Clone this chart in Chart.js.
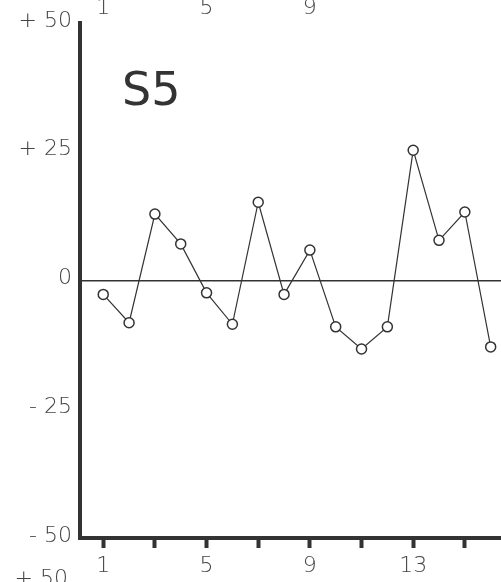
<!DOCTYPE html>
<html>
<head>
<meta charset="utf-8">
<script src="https://cdn.jsdelivr.net/npm/chart.js@4/dist/chart.umd.min.js"></script>
<style>
  body { margin: 0; background: #fff; }
  canvas { display: block; }
</style>
</head>
<body>
<canvas id="chartS5" width="501" height="582"></canvas>
<script>
// data
const trials = [1, 2, 3, 4, 5, 6, 7, 8, 9, 10, 11, 12, 13, 14, 15, 16];
const scores = [-2.7, -8.2, 12.9, 7.1, -2.4, -8.5, 15.2, -2.7, 5.9, -9.0, -13.3, -9.0, 25.3, 7.8, 13.3, -12.9];
const xTicks = [1, 3, 5, 7, 9, 11, 13, 15];
const xLabels = [1, 5, 9, 13];
const yTicks = [-50, -25, 0, 25, 50];
const yLabels = ["- 50", "- 25", "0", "+ 25", "+ 50"];
const panelTitle = "S5";
// bits of the neighbouring panels that are cut off at the edges
const topLabels = [1, 5, 9];
const bottomLabel = "+ 50";

const ink = "#333";
const textInk = "#444";
const fontFamily = "'DejaVu Sans', sans-serif";

const extraText = {
  id: "extraText",
  afterDraw(chart) {
    const ctx = chart.ctx;
    const x = chart.scales.x;
    ctx.save();
    ctx.fillStyle = ink;
    ctx.font = "400 46px " + fontFamily;
    ctx.textAlign = "left";
    ctx.textBaseline = "alphabetic";
    ctx.fillText(panelTitle, 122, 105);

    ctx.fillStyle = textInk;
    ctx.font = "200 22px " + fontFamily;
    ctx.textAlign = "center";
    topLabels.forEach(v => ctx.fillText(String(v), x.getPixelForValue(v), 14));
    ctx.textAlign = "right";
    ctx.fillText(bottomLabel, 68, 585);
    ctx.restore();
  }
};

const ctx = document.getElementById("chartS5");
new Chart(ctx, {
  type: "line",
  data: {
    datasets: [{
      data: trials.map((t, i) => ({ x: t, y: scores[i] })),
      borderColor: ink,
      borderWidth: 1.2,
      pointRadius: 5,
      pointBorderWidth: 1.5,
      pointBackgroundColor: "#fff",
      pointBorderColor: ink,
      tension: 0
    }]
  },
  options: {
    responsive: false,
    devicePixelRatio: 1,
    animation: false,
    layout: { autoPadding: false, padding: { top: 23, left: 0, right: 0, bottom: 0 } },
    plugins: { legend: { display: false }, tooltip: { enabled: false } },
    scales: {
      x: {
        type: "linear",
        min: 0.1,
        max: 16.4,
        afterBuildTicks: s => { s.ticks = xTicks.map(v => ({ value: v })); },
        afterFit: s => { s.height = 44; },
        ticks: {
          autoSkip: false,
          maxRotation: 0,
          padding: 5,
          color: textInk,
          font: { family: fontFamily, size: 22, weight: "200" },
          callback: v => xLabels.includes(v) ? String(v) : ""
        },
        grid: {
          drawOnChartArea: false,
          drawTicks: true,
          tickLength: 10,
          tickWidth: 4,
          tickColor: ink
        },
        border: { display: true, color: ink, width: 4 }
      },
      y: {
        min: -50,
        max: 50,
        afterBuildTicks: s => { s.ticks = yTicks.map(v => ({ value: v })); },
        afterFit: s => { s.width = 80; },
        ticks: {
          padding: 8,
          labelOffset: -2,
          color: textInk,
          font: { family: fontFamily, size: 22, weight: "200" },
          callback: v => yLabels[yTicks.indexOf(v)]
        },
        grid: {
          drawTicks: false,
          lineWidth: 1.5,
          color: c => c.tick && c.tick.value === 0 ? ink : "rgba(0,0,0,0)"
        },
        border: { display: true, color: ink, width: 4 }
      }
    }
  },
  plugins: [extraText]
});
</script>
</body>
</html>
